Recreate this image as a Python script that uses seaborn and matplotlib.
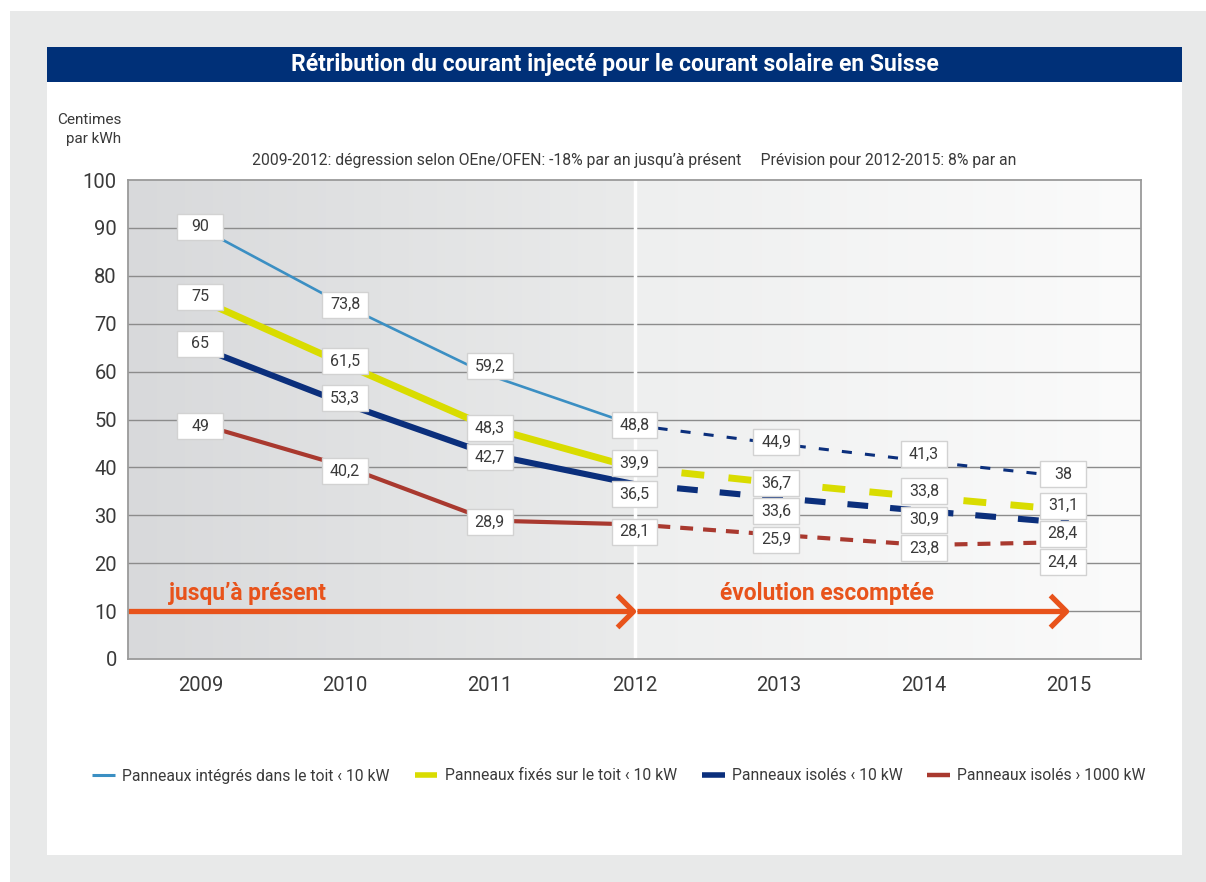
import numpy as np
import pandas as pd
import matplotlib
matplotlib.use("Agg")
import matplotlib.pyplot as plt
from matplotlib.patches import Rectangle
from matplotlib.path import Path
import seaborn as sns

# ---- data -------------------------------------------------------------
years = [2009, 2010, 2011, 2012, 2013, 2014, 2015]
integres = [90, 73.8, 59.2, 48.8, 44.9, 41.3, 38]
fixes = [75, 61.5, 48.3, 39.9, 36.7, 33.8, 31.1]
isoles_petits = [65, 53.3, 42.7, 36.5, 33.6, 30.9, 28.4]
isoles_grands = [49, 40.2, 28.9, 28.1, 25.9, 23.8, 24.4]
series_names = [
    "Panneaux intégrés dans le toit ‹ 10 kW",
    "Panneaux fixés sur le toit ‹ 10 kW",
    "Panneaux isolés ‹ 10 kW",
    "Panneaux isolés › 1000 kW",
]
y_ticks = list(range(0, 101, 10))
split_year = 2012

# ---- styles -----------------------------------------------------------
FONT = ["Roboto", "DejaVu Sans"]
TXT = "#3a3a3a"
ORANGE = "#e8531b"
NAVY_TITLE = "#003078"
styles = [
    dict(color="#3b8fc3", dash_color="#0b2f7c", lw=1.9, dash_lw=2.2, dash=(3.3, 4.3), leg_lw=2.2),
    dict(color="#d9dc00", dash_color="#d9dc00", lw=5.0, dash_lw=5.0, dash=(3.3, 3.5), leg_lw=4.0),
    dict(color="#0b2f7c", dash_color="#0b2f7c", lw=4.4, dash_lw=4.4, dash=(3.4, 3.6), leg_lw=4.0),
    dict(color="#a9392f", dash_color="#a9392f", lw=3.0, dash_lw=3.0, dash=(3.1, 2.4), leg_lw=3.2),
]
# vertical nudges of the value boxes so they do not overlap
label_nudge = [
    [0.2, 0.2, 2.0, 0.0, 0.4, 1.5, 0.6],
    [0.6, 0.7, -0.1, 1.0, 0.0, 1.3, 0.9],
    [0.8, 1.2, -0.5, -2.1, -2.7, -1.8, -2.2],
    [-0.4, -1.0, -0.3, -1.5, -1.0, -0.7, -4.2],
]

sns.set_theme(style="white")
plt.rcParams["font.family"] = FONT

W, H = 1206, 882
fig = plt.figure(figsize=(W / 100, H / 100), dpi=100)
fig.patch.set_facecolor("white")


def fx(px):
    return px / W


def fy(py):
    return 1 - py / H


# page background, white panel and title bar
fig.patches.append(Rectangle((fx(10), 0), fx(1196), fy(11), transform=fig.transFigure,
                             facecolor="#e8e9e9", edgecolor="none", zorder=-3))
fig.patches.append(Rectangle((fx(47), fy(855)), fx(1135), (855 - 47) / H,
                             transform=fig.transFigure, facecolor="white",
                             edgecolor="none", zorder=-2))
fig.patches.append(Rectangle((fx(47), fy(82)), fx(1135), 35 / H,
                             transform=fig.transFigure, facecolor=NAVY_TITLE,
                             edgecolor="none", zorder=-1))
fig.text(fx(615), fy(64.5), "Rétribution du courant injecté pour le courant solaire en Suisse",
         color="white", fontsize=16.5, fontweight="bold", ha="center", va="center")

fig.text(fx(121), fy(120), "Centimes", color=TXT, fontsize=11, ha="right", va="center")
fig.text(fx(121), fy(139), "par kWh", color=TXT, fontsize=11, ha="right", va="center")
fig.text(fx(634), fy(161),
         "2009-2012: dégression selon OEne/OFEN: -18% par an jusqu’à présent     "
         "Prévision pour 2012-2015: 8% par an",
         color=TXT, fontsize=11.3, ha="center", va="center")

ax = fig.add_axes([fx(128), fy(659), fx(1141 - 128), (659 - 180) / H])
x0, x1 = 2008.5, 2015.5

# background gradients: history and forecast halves
g1 = np.linspace(0, 1, 256)[None, :]
left_cols = np.array([0xd8, 0xd9, 0xdb]) / 255
mid_cols = np.array([0xea, 0xeb, 0xeb]) / 255
r_start = np.array([0xee, 0xef, 0xef]) / 255
r_end = np.array([0xfb, 0xfb, 0xfb]) / 255
grad_l = left_cols[None, None, :] * (1 - g1[..., None]) + mid_cols[None, None, :] * g1[..., None]
grad_r = r_start[None, None, :] * (1 - g1[..., None]) + r_end[None, None, :] * g1[..., None]
ax.imshow(grad_l, extent=(x0, split_year, 0, 100), aspect="auto", zorder=0)
ax.imshow(grad_r, extent=(split_year, x1, 0, 100), aspect="auto", zorder=0)
ax.set_xlim(x0, x1)
ax.set_ylim(0, 100)

for t in y_ticks[1:-1]:
    ax.axhline(t, color="#8c8c8c", lw=1.0, zorder=1)
ax.axvline(split_year, color="white", lw=2.5, zorder=1.5)

# orange timeline arrows
chevron = Path([(-1, 1), (0, 0), (-1, -1)], [Path.MOVETO, Path.LINETO, Path.LINETO])
ax.plot([x0, split_year - 0.02], [10, 10], color=ORANGE, lw=3.8, zorder=2,
        solid_capstyle="butt")
ax.plot([split_year + 0.02, 2014.98], [10, 10], color=ORANGE, lw=3.8, zorder=2,
        solid_capstyle="butt")
for xt in (split_year - 0.01, 2014.98):
    ax.plot([xt], [10], marker=chevron, markersize=23, markerfacecolor="none",
            markeredgecolor=ORANGE, markeredgewidth=3.8, zorder=2)
ax.text(2008.78, 13.6, "jusqu’à présent", color=ORANGE, fontsize=16.4,
        fontweight="bold", ha="left", va="center")
ax.text(2013.33, 13.6, "évolution escomptée", color=ORANGE, fontsize=16.4,
        fontweight="bold", ha="center", va="center")

# series lines
all_series = [integres, fixes, isoles_petits, isoles_grands]
hist_idx = [i for i, y in enumerate(years) if y <= split_year]
fc_idx = [i for i, y in enumerate(years) if y >= split_year]
for name, vals, st in zip(series_names, all_series, styles):
    df = pd.DataFrame({"année": years, "valeur": vals})
    sns.lineplot(data=df.iloc[hist_idx], x="année", y="valeur", ax=ax,
                 color=st["color"], lw=st["lw"], zorder=3, sort=False,
                 errorbar=None, solid_capstyle="butt")
    sns.lineplot(data=df.iloc[fc_idx], x="année", y="valeur", ax=ax,
                 color=st["dash_color"], lw=st["dash_lw"], zorder=3, sort=False,
                 errorbar=None, linestyle=(0, st["dash"]), dash_capstyle="butt")

# value boxes
bw, bh = 46 / 145.2, 26 / 4.79
x_nudge = {2013: -0.02, 2015: -0.04}
for vals, nud in zip(all_series, label_nudge):
    for yr, v, n in zip(years, vals, nud):
        cx = yr + x_nudge.get(yr, 0)
        cy = v + n
        ax.add_patch(Rectangle((cx - bw / 2, cy - bh / 2), bw, bh, facecolor="white",
                               edgecolor="#d2d2d2", lw=1.0, zorder=4))
        txt = f"{v:g}".replace(".", ",")
        ax.text(cx, cy, txt, color=TXT, fontsize=11.5, ha="center", va="center", zorder=5)

ax.set_xticks(years)
ax.set_xticklabels([str(y) for y in years])
ax.set_yticks(y_ticks)
ax.tick_params(axis="both", labelsize=14.5, colors=TXT, length=0)
ax.tick_params(axis="x", pad=12)
ax.tick_params(axis="y", pad=8)
ax.set_xlabel("")
ax.set_ylabel("")
for s in ax.spines.values():
    s.set_visible(True)
    s.set_color("#9a9a9a")
    s.set_linewidth(1.3)

# legend
handles = []
for st in styles:
    h, = ax.plot([], [], color=st["color"], lw=st["leg_lw"], solid_capstyle="butt")
    handles.append(h)
leg = fig.legend(handles, series_names, loc="center", bbox_to_anchor=(fx(619), fy(776)),
                 ncol=4, frameon=False, fontsize=11.3, handlelength=1.45,
                 handletextpad=0.45, columnspacing=1.6)
for t in leg.get_texts():
    t.set_color(TXT)

fig.savefig("out.png", dpi=100, facecolor=fig.get_facecolor())
